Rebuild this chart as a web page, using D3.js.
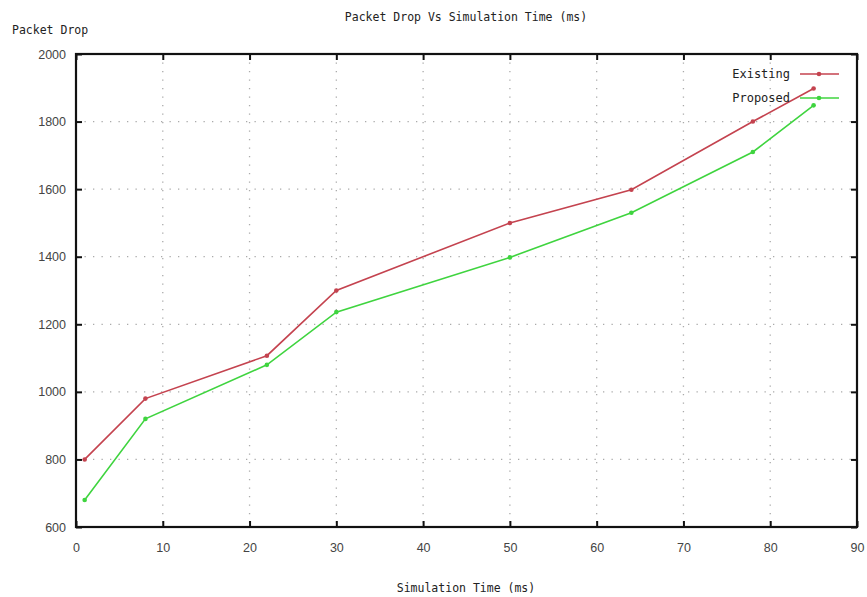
<!DOCTYPE html>
<html>
<head>
<meta charset="utf-8">
<script src="https://cdn.jsdelivr.net/npm/d3@7"></script>
<style>
    body { margin: 0; background: #fff; }
    text { font-family: "DejaVu Sans Mono", monospace; }
</style>
</head>
<body>
<svg id="chart"></svg>
<script>
// Section for Data
var simTime = [1, 8, 22, 30, 50, 64, 78, 85];
var existing = [800, 980, 1107, 1300, 1500, 1598, 1800, 1898];
var proposed = [680, 920, 1080, 1236, 1398, 1530, 1710, 1848];
var xTicks = [0, 10, 20, 30, 40, 50, 60, 70, 80, 90];
var yTicks = [600, 800, 1000, 1200, 1400, 1600, 1800, 2000];

var series = [
    { name: "Existing", values: existing, color: "#c4434f" },
    { name: "Proposed", values: proposed, color: "#3fd43f" }
];

// Dimensions of the svg container
var svgWidth = 867, svgHeight = 597;
var margin = { top: 54, right: 10, bottom: 70, left: 76 };
var width = svgWidth - margin.left - margin.right;
var height = svgHeight - margin.top - margin.bottom;

var x = d3.scaleLinear().domain([0, 90]).range([0, width]);
var y = d3.scaleLinear().domain([600, 2000]).range([height, 0]);

var svg = d3.select("#chart")
    .attr("width", svgWidth)
    .attr("height", svgHeight);

var g = svg.append("g")
    .attr("transform", "translate(" + margin.left + "," + margin.top + ")");

// dotted grid
g.append("g").selectAll("line")
    .data(xTicks.slice(1, -1))
    .enter().append("line")
    .attr("x1", function (d) { return x(d); })
    .attr("x2", function (d) { return x(d); })
    .attr("y1", 0).attr("y2", height)
    .attr("stroke", "#aaa").attr("stroke-width", 1.3)
    .attr("stroke-dasharray", "1.3,7.2");

g.append("g").selectAll("line")
    .data(yTicks.slice(1, -1))
    .enter().append("line")
    .attr("y1", function (d) { return y(d); })
    .attr("y2", function (d) { return y(d); })
    .attr("x1", 0).attr("x2", width)
    .attr("stroke", "#aaa").attr("stroke-width", 1.3)
    .attr("stroke-dasharray", "1.3,7.2");

// axes with inward ticks on all four sides
function styleAxis(sel) {
    sel.select(".domain").remove();
    sel.selectAll(".tick line").attr("stroke", "#111").attr("stroke-width", 2);
    sel.selectAll(".tick text")
        .attr("fill", "#444")
        .style("font-family", "'Liberation Sans', Arial, sans-serif")
        .style("font-size", "12.5px");
}

g.append("g")
    .attr("transform", "translate(0," + height + ")")
    .call(d3.axisBottom(x).tickValues(xTicks).tickSize(-6).tickPadding(16).tickFormat(d3.format("d")))
    .call(styleAxis);

g.append("g")
    .call(d3.axisLeft(y).tickValues(yTicks).tickSize(-6).tickPadding(10).tickFormat(d3.format("d")))
    .call(styleAxis);

g.append("g")
    .call(d3.axisTop(x).tickValues(xTicks).tickSize(-6).tickFormat(""))
    .call(styleAxis);

g.append("g")
    .attr("transform", "translate(" + width + ",0)")
    .call(d3.axisRight(y).tickValues(yTicks).tickSize(-6).tickFormat(""))
    .call(styleAxis);

// border
g.append("rect")
    .attr("width", width).attr("height", height)
    .attr("fill", "none").attr("stroke", "#111").attr("stroke-width", 2.2);

// lines and points
var line = d3.line()
    .x(function (d, i) { return x(simTime[i]); })
    .y(function (d) { return y(d); });

series.forEach(function (s) {
    g.append("path")
        .datum(s.values)
        .attr("fill", "none")
        .attr("stroke", s.color)
        .attr("stroke-width", 1.6)
        .attr("d", line);

    g.append("g").selectAll("circle")
        .data(s.values)
        .enter().append("circle")
        .attr("cx", function (d, i) { return x(simTime[i]); })
        .attr("cy", function (d) { return y(d); })
        .attr("r", 2.3)
        .attr("fill", s.color);
});

// legend
var legend = svg.append("g");
series.forEach(function (s, i) {
    var ly = 74 + i * 24;
    legend.append("text")
        .attr("x", 790).attr("y", ly + 4)
        .attr("text-anchor", "end")
        .attr("fill", "#222")
        .style("font-size", "12px")
        .text(s.name);
    legend.append("line")
        .attr("x1", 800).attr("x2", 839)
        .attr("y1", ly).attr("y2", ly)
        .attr("stroke", s.color).attr("stroke-width", 1.6);
    legend.append("circle")
        .attr("cx", 819).attr("cy", ly).attr("r", 2.3)
        .attr("fill", s.color);
});

// titles
svg.append("text")
    .attr("x", 466).attr("y", 21)
    .attr("text-anchor", "middle")
    .attr("fill", "#222")
    .style("font-size", "11.5px")
    .text("Packet Drop Vs Simulation Time (ms)");

svg.append("text")
    .attr("x", 12).attr("y", 34)
    .attr("fill", "#222")
    .style("font-size", "11.5px")
    .text("Packet Drop");

svg.append("text")
    .attr("x", 466).attr("y", 592)
    .attr("text-anchor", "middle")
    .attr("fill", "#222")
    .style("font-size", "11.5px")
    .text("Simulation Time (ms)");
</script>
</body>
</html>
